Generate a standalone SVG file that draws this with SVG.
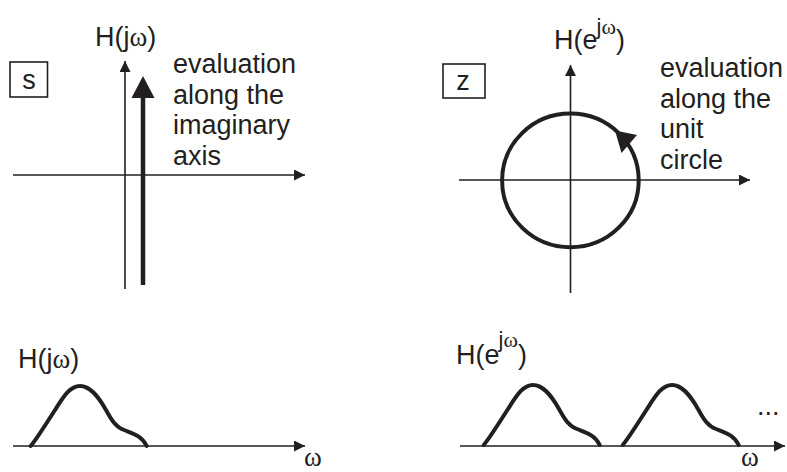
<svg xmlns="http://www.w3.org/2000/svg" width="787" height="472" viewBox="0 0 787 472">
<defs>
<style>
.t{font-family:"Liberation Sans",Arial,sans-serif;font-size:27px;fill:#231f20}
.w{font-family:"Liberation Serif","Times New Roman",serif}
.ax{stroke:#231f20;stroke-width:1.6;fill:none}
.thick{stroke:#231f20;stroke-width:4.5;fill:none}
.curve{stroke:#231f20;stroke-width:4;fill:none;stroke-linecap:round;stroke-linejoin:round}
.box{stroke:#231f20;stroke-width:1.6;fill:none}
.head{fill:#231f20}
</style>
<marker id="arr" markerUnits="userSpaceOnUse" markerWidth="12" markerHeight="12" refX="11" refY="5.5" orient="auto">
<path d="M0,0 L11,5.5 L0,11 Z" fill="#231f20"/>
</marker>
<path id="hump" d="M 30.7 446 C 36 440, 46 424, 55 410 C 64 396, 70 386, 80 386 C 90 386, 98 396, 106 410 C 112 421, 116 427, 124 430 C 134 434, 142 436, 146.7 446"/>
</defs>

<g id="connectors">
<line class="ax" x1="13" y1="175" x2="305" y2="175" marker-end="url(#arr)"/>
<line class="ax" x1="125" y1="289" x2="125" y2="61" marker-end="url(#arr)"/>
<line class="ax" x1="459" y1="180" x2="750" y2="180" marker-end="url(#arr)"/>
<line class="ax" x1="570.5" y1="293" x2="570.5" y2="65" marker-end="url(#arr)"/>
<line class="ax" x1="13" y1="446" x2="305" y2="446" marker-end="url(#arr)"/>
<line class="ax" x1="460" y1="446" x2="785" y2="446" marker-end="url(#arr)"/>
</g>

<g id="s-plane">
<rect class="box" x="10" y="62" width="37.5" height="35"/>
<text class="t" x="29" y="89" text-anchor="middle">s</text>
<text class="t" x="95" y="46">H(j<tspan class="w">ω</tspan>)</text>
<line class="thick" x1="143" y1="285" x2="143" y2="96"/>
<polygon class="head" points="143,76 131.5,98 154.5,98"/>
<text class="t" x="173" y="72.5">evaluation</text>
<text class="t" x="173" y="103.5">along the</text>
<text class="t" x="173" y="134">imaginary</text>
<text class="t" x="173" y="165">axis</text>
</g>

<g id="z-plane">
<rect class="box" x="443" y="64" width="42" height="34"/>
<text class="t" x="463" y="90" text-anchor="middle">z</text>
<text class="t" x="554" y="49">H(e<tspan font-size="22" dx="-1" dy="-15">j<tspan class="w">ω</tspan></tspan><tspan dy="15">)</tspan></text>
<ellipse class="thick" style="stroke-width:4" cx="570.4" cy="180.4" rx="68.3" ry="66.8"/>
<polygon class="head" points="615,130.5 637,135 621.5,153"/>
<text class="t" x="660" y="77">evaluation</text>
<text class="t" x="660" y="107.5">along the</text>
<text class="t" x="660" y="138">unit</text>
<text class="t" x="660" y="168.5">circle</text>
</g>

<g id="s-response">
<text class="t" x="18" y="368">H(j<tspan class="w">ω</tspan>)</text>
<use href="#hump" class="curve"/>
<text class="t w" x="304" y="466">ω</text>
</g>

<g id="z-response">
<text class="t" x="456" y="364">H(e<tspan font-size="22" dx="-1" dy="-17">j<tspan class="w">ω</tspan></tspan><tspan dy="17">)</tspan></text>
<use href="#hump" class="curve" transform="translate(453,-1)"/>
<use href="#hump" class="curve" transform="translate(592,-1)"/>
<text class="t" x="757" y="415">...</text>
<text class="t w" x="741" y="466">ω</text>
</g>
</svg>
